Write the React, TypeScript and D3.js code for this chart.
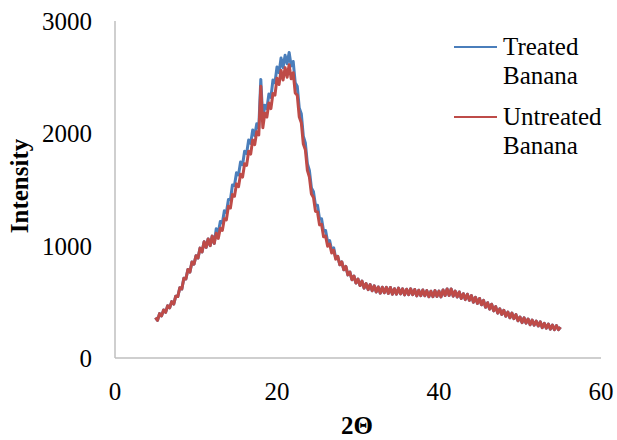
import React from "react";
import * as d3 from "d3";

// 2θ from 5 to 55 in steps of 0.25
const xStart = 5;
const xStep = 0.25;

const treated = [
	360, 335, 395, 375, 428, 406, 465, 447, 502, 480, 550, 547, 625, 615, 710, 703, 788, 765, 855, 835,
	910, 890, 978, 945, 1035, 985, 1060, 1000, 1085, 1020, 1150, 1115, 1215, 1200, 1310, 1295, 1410, 1410, 1540, 1535,
	1650, 1630, 1745, 1720, 1840, 1820, 1940, 1910, 2030, 1980, 2085, 2045, 2480, 2115, 2250, 2220, 2350, 2320, 2475, 2450,
	2590, 2540, 2670, 2585, 2695, 2620, 2720, 2600, 2640, 2450, 2420, 2225, 2175, 1975, 1915, 1730, 1670, 1515, 1480, 1360,
	1360, 1240, 1240, 1130, 1135, 1035, 1045, 960, 980, 890, 905, 830, 855, 785, 815, 740, 765, 697, 730, 667,
	702, 645, 685, 622, 662, 609, 653, 599, 643, 587, 632, 577, 630, 581, 629, 575, 628, 568, 617, 568,
	622, 571, 616, 562, 612, 564, 616, 564, 610, 553, 603, 555, 606, 554, 600, 545, 594, 546, 600, 548,
	595, 544, 605, 556, 615, 557, 615, 550, 595, 543, 588, 530, 572, 520, 568, 513, 555, 496, 540, 486,
	530, 474, 513, 451, 492, 435, 479, 419, 457, 399, 438, 388, 425, 372, 409, 358, 400, 350, 386, 331,
	365, 315, 357, 310, 347, 296, 338, 292, 328, 285, 322, 270, 308, 266, 302, 257, 293, 252, 288, 252,
	275,
];

const untreated = [
	360, 335, 395, 375, 428, 406, 465, 447, 502, 480, 550, 547, 625, 615, 710, 703, 788, 765, 855, 835,
	910, 890, 978, 945, 1035, 985, 1060, 1000, 1085, 1020, 1110, 1065, 1155, 1135, 1240, 1230, 1350, 1335, 1455, 1440,
	1550, 1525, 1635, 1610, 1730, 1715, 1840, 1815, 1940, 1900, 2015, 1985, 2420, 2050, 2180, 2145, 2270, 2220, 2355, 2340,
	2490, 2435, 2560, 2475, 2585, 2500, 2610, 2485, 2540, 2360, 2340, 2145, 2095, 1905, 1855, 1670, 1610, 1460, 1430, 1305,
	1300, 1185, 1190, 1080, 1085, 995, 1015, 935, 960, 880, 905, 830, 855, 785, 815, 740, 765, 697, 730, 667,
	702, 645, 685, 622, 662, 609, 653, 599, 643, 587, 632, 577, 630, 581, 629, 575, 628, 568, 617, 568,
	622, 571, 616, 562, 612, 564, 616, 564, 610, 553, 603, 555, 606, 554, 600, 545, 594, 546, 600, 548,
	595, 544, 605, 556, 615, 557, 615, 550, 595, 543, 588, 530, 572, 520, 568, 513, 555, 496, 540, 486,
	530, 474, 513, 451, 492, 435, 479, 419, 457, 399, 438, 388, 425, 372, 409, 358, 400, 350, 386, 331,
	365, 315, 357, 310, 347, 296, 338, 292, 328, 285, 322, 270, 308, 266, 302, 257, 293, 252, 288, 252,
	275,
];

const xTicks = [0, 20, 40, 60];
const yTicks = [0, 1000, 2000, 3000];
const seriesNames = ["Treated\nBanana", "Untreated\nBanana"];
const colors = ["#4a7ebb", "#be4b48"];

const x = d3.scaleLinear().domain([0, 60]).range([115, 601]);
const y = d3.scaleLinear().domain([0, 3000]).range([358, 21]);

const line = d3
	.line<number>()
	.x((_, i) => x(xStart + i * xStep))
	.y((d) => y(d));

const txt = { fontFamily: '"Liberation Serif", "DejaVu Serif", serif', fontSize: 25 };

export default function App() {
	return (
		<svg width={617} height={440} style={{ position: "absolute", left: 0, top: 0, background: "#fff" }}>
			<rect width={617} height={440} fill="#fff" />
			{/* axes */}
			<line x1={x(0)} x2={x(0)} y1={y(3000)} y2={y(0)} stroke="#bfbfbf" strokeWidth={1.5} />
			<line x1={x(0)} x2={x(60)} y1={y(0)} y2={y(0)} stroke="#bfbfbf" strokeWidth={1.5} />
			{yTicks.map((t) => (
				<text key={t} x={92} y={y(t) + 9} textAnchor="end" style={txt}>
					{t}
				</text>
			))}
			{xTicks.map((t) => (
				<text key={t} x={x(t)} y={400} textAnchor="middle" style={txt}>
					{t}
				</text>
			))}
			{/* series */}
			<path d={line(treated) || ""} fill="none" stroke={colors[0]} strokeWidth={3} strokeLinejoin="round" />
			<path d={line(untreated) || ""} fill="none" stroke={colors[1]} strokeWidth={3} strokeLinejoin="round" />
			{/* titles */}
			<text x={357} y={434} textAnchor="middle" style={{ ...txt, fontWeight: "bold" }}>
				2Θ
			</text>
			<text
				transform={`translate(28, 186) rotate(-90)`}
				textAnchor="middle"
				style={{ ...txt, fontWeight: "bold" }}>
				Intensity
			</text>
			{/* legend */}
			{seriesNames.map((name, i) => {
				const ly = 47 + i * 70;
				return (
					<g key={name}>
						<line x1={454} x2={497} y1={ly} y2={ly} stroke={colors[i]} strokeWidth={2} />
						{name.split("\n").map((part, j) => (
							<text key={part} x={503} y={ly + 8 + j * 29} style={txt}>
								{part}
							</text>
						))}
					</g>
				);
			})}
		</svg>
	);
}
